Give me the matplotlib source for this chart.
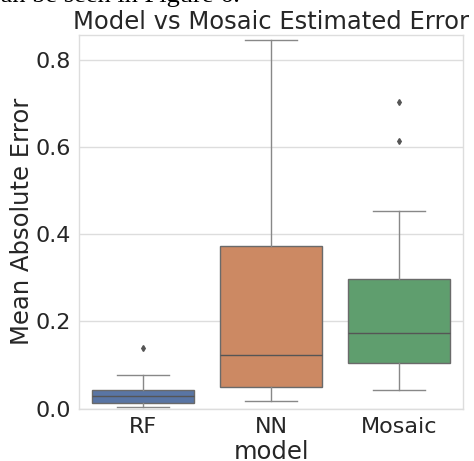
import colorsys
import matplotlib
matplotlib.use("Agg")
import matplotlib.pyplot as plt
import matplotlib.colors as mcolors

# summary statistics
models = ["RF", "NN", "Mosaic"]
whislo = [0.003, 0.018, 0.043]
q1 = [0.012, 0.049, 0.105]
med = [0.029, 0.1225, 0.173]
q3 = [0.0414, 0.374, 0.297]
whishi = [0.076, 0.847, 0.454]
fliers = [[0.1386], [], [0.615, 0.705]]

deep = ["#4C72B0", "#DD8452", "#55A868"]


def desat(c, prop=0.75):
    h, l, s = colorsys.rgb_to_hls(*mcolors.to_rgb(c))
    return colorsys.hls_to_rgb(h, l, s * prop)


colors = [desat(c) for c in deep]
gray = "#6a6a6a"
wgray = "#888888"

plt.rcParams["font.family"] = "DejaVu Sans"
fig = plt.figure(figsize=(4.74, 4.61), dpi=100)
ax = fig.add_axes([79 / 474, 1 - 408.5 / 461, (463 - 79) / 474, (408.5 - 35) / 461])

stats = [dict(label=m, whislo=a, q1=b, med=c, q3=d, whishi=e, fliers=f)
         for m, a, b, c, d, e, f in zip(models, whislo, q1, med, q3, whishi, fliers)]
bp = ax.bxp(stats, positions=range(len(models)), widths=0.8, patch_artist=True,
            boxprops=dict(edgecolor=gray, linewidth=1.0),
            whiskerprops=dict(color=wgray, linewidth=1.0),
            capprops=dict(color=wgray, linewidth=1.0),
            medianprops=dict(color="#555555", linewidth=1.0),
            flierprops=dict(marker="d", markersize=3, markerfacecolor="#555555",
                            markeredgecolor="#555555", linestyle="none"),
            capwidths=0.4, zorder=2)
for patch, col in zip(bp["boxes"], colors):
    patch.set_facecolor(col)

ax.set_xlim(-0.5, 2.5)
ax.set_ylim(0, 0.858)
ax.set_yticks([0.0, 0.2, 0.4, 0.6, 0.8])
ax.set_yticklabels(["0.0", "0.2", "0.4", "0.6", "0.8"])
ax.set_xticks(range(len(models)))
ax.set_xticklabels(models)
ax.grid(axis="y", color="#dddddd", linewidth=1.0, zorder=0)
ax.set_axisbelow(True)
for s in ax.spines.values():
    s.set_color("#dddddd")
    s.set_linewidth(1.0)
ax.tick_params(length=0, labelsize=16, colors="#262626", pad=6)
ax.set_xlabel("model", fontsize=17.5, color="#262626", labelpad=2)
ax.set_ylabel("Mean Absolute Error", fontsize=17.5, color="#262626", labelpad=1)
ax.set_title("Model vs Mosaic Estimated Error", fontsize=17.5, color="#262626", pad=4)

# clipped line of the surrounding page text
fig.text(240 / 474, 1 - 2 / 461, "can be seen in Figure 6.", ha="right",
         va="baseline", fontsize=19, family="Liberation Serif", color="black")

fig.savefig("out.png", dpi=100)
